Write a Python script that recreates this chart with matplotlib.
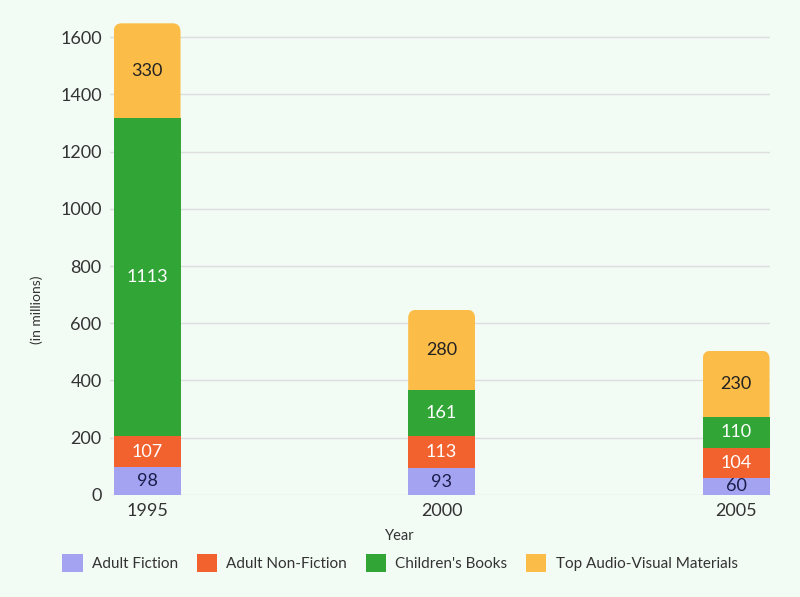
import numpy as np
import matplotlib
matplotlib.use("Agg")
import matplotlib.pyplot as plt
from matplotlib.patches import FancyBboxPatch, Patch

years = ["1995", "2000", "2005"]
series = ["Adult Fiction", "Adult Non-Fiction", "Children's Books", "Top Audio-Visual Materials"]
adult_fiction = [98, 93, 60]
adult_nonfiction = [107, 113, 104]
childrens = [1113, 161, 110]
audio_visual = [330, 280, 230]

colors = ["#a3a3f2", "#f2622e", "#31a637", "#fbbd48"]
text_colors = ["#1c1c4a", "#ffffff", "#ffffff", "#222222"]

plt.rcParams['font.family'] = ['Lato', 'DejaVu Sans']

fig = plt.figure(figsize=(8, 5.97), dpi=100, facecolor="#f3fbf5")
ax = fig.add_axes([0.1375, 0.1709, 0.825, 0.815])
ax.set_facecolor("#f3fbf5")

x = np.arange(len(years))
width = 0.227
values = [adult_fiction, adult_nonfiction, childrens, audio_visual]
bottom = np.zeros(len(years))
for i, (vals, col) in enumerate(zip(values, colors)):
    bars = ax.bar(x, vals, width, bottom=bottom, color=col, zorder=3, linewidth=0)
    if i == len(values) - 1:
        # round the top corners of the last segment by clipping it
        for b in bars:
            bx, by, bw, bh = b.get_x(), b.get_y(), b.get_width(), b.get_height()
            r = 0.027
            clip = FancyBboxPatch((bx, by - bh), bw, 2 * bh,
                                  boxstyle=f"round,pad=0,rounding_size={r}",
                                  mutation_aspect=29.0 / r, transform=ax.transData)
            b.set_clip_path(clip)
    for xi, v, b0 in zip(x, vals, bottom):
        ax.text(xi, b0 + v / 2, str(v), ha="center", va="center", fontsize=13,
                color=text_colors[i], zorder=4)
    bottom += np.array(vals)

ax.set_xlim(-0.126, 2.115)
ax.set_ylim(0, 1700)
ax.set_yticks(range(0, 1601, 200))
ax.set_xticks(x)
ax.set_xticklabels(years)
ax.tick_params(length=0, labelsize=13, colors="#333333")
ax.tick_params(axis="y", pad=6)
ax.tick_params(axis="x", pad=6)
ax.grid(axis="y", color="#dedede", linewidth=1, zorder=0)
for s in ax.spines.values():
    s.set_visible(False)

fig.text(0.5, 1 - 536 / 597, "Year", ha="center", va="center", fontsize=10.5, color="#333333")
fig.text(0.046, 1 - 310 / 597, "(in millions)", ha="center", va="center", rotation=90,
         fontsize=10, color="#333333")

handles = [Patch(facecolor=c, linewidth=0) for c in colors]
fig.legend(handles, series, loc="center", bbox_to_anchor=(0.5, 1 - 563 / 597), ncol=4,
           frameon=False, fontsize=11, handlelength=1.35, handleheight=1.35,
           columnspacing=1.2, handletextpad=0.6, labelcolor="#333333")

fig.savefig("out.png", dpi=100, facecolor=fig.get_facecolor())
